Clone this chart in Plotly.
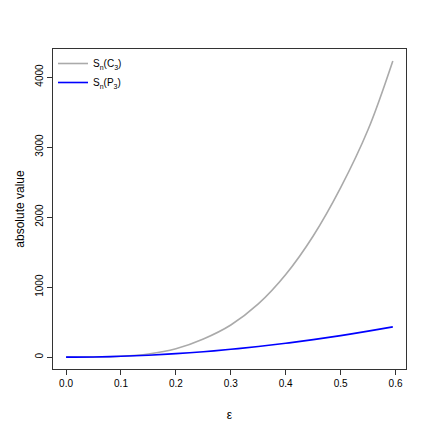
import plotly.graph_objects as go

eps = [0.0, 0.05, 0.1, 0.15, 0.2, 0.25, 0.3, 0.35, 0.4, 0.45, 0.5, 0.55, 0.595]
s_c3 = [0, 1, 12, 45, 120, 260, 460, 760, 1180, 1730, 2420, 3250, 4230]
s_p3 = [0, 3, 12, 28, 50, 78, 112, 152, 198, 250, 308, 372, 432]

fig = go.Figure()
fig.add_trace(go.Scatter(x=eps, y=s_c3, mode="lines", line=dict(color="#aaaaaa", width=1.6, shape="spline"),
                         name="S<sub>n</sub>(C<sub>3</sub>)"))
fig.add_trace(go.Scatter(x=eps, y=s_p3, mode="lines", line=dict(color="#0000ff", width=1.6, shape="spline"),
                         name="S<sub>n</sub>(P<sub>3</sub>)"))
ax = dict(showgrid=False, zeroline=False, showline=True, mirror=True, linecolor="#333", linewidth=1,
          ticks="outside", ticklen=5, tickcolor="#333", tickfont=dict(size=10, family="Liberation Sans", color="black"))
fig.update_layout(width=429, height=429, plot_bgcolor="white", paper_bgcolor="white",
                  margin=dict(l=43, r=31, t=41, b=68),
                  font=dict(family="Liberation Sans", size=10, color="black"),
                  xaxis=dict(**ax, range=[-0.0238, 0.619], tickvals=[0, 0.1, 0.2, 0.3, 0.4, 0.5, 0.6],
                             ticktext=["0.0", "0.1", "0.2", "0.3", "0.4", "0.5", "0.6"],
                             title=dict(text="ε", standoff=22)),
                  yaxis=dict(**ax, range=[-169, 4400], tickvals=[0, 1000, 2000, 3000, 4000], tickangle=-90,
                             title=dict(text="absolute value", standoff=6)),
                  legend=dict(x=0.0, y=1.0, xanchor="left", yanchor="top", bgcolor="rgba(0,0,0,0)",
                              font=dict(size=10), tracegroupgap=0, itemwidth=30),
                  showlegend=True)
fig.write_html("out.html")
